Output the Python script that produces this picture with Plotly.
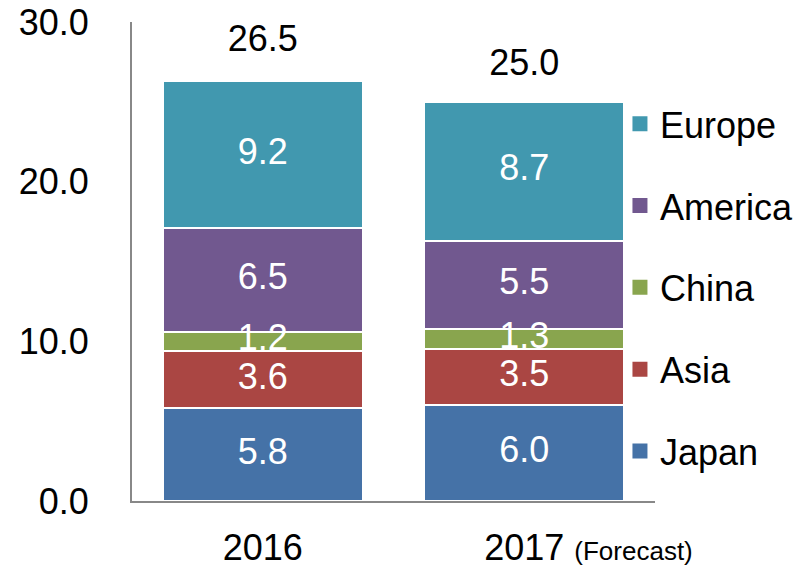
import plotly.graph_objects as go

categories = ["2016", "2017"]
series_names = ["Japan", "Asia", "China", "America", "Europe"]
japan = [5.8, 6.0]
asia = [3.6, 3.5]
china = [1.2, 1.3]
america = [6.5, 5.5]
europe = [9.2, 8.7]
totals = [26.5, 25.0]
y_ticks = [0, 10, 20, 30]
forecast_note = "(Forecast)"

colors = ["#4572A7", "#AA4643", "#89A54E", "#71588F", "#4198AF"]
FONT = "Arial, Liberation Sans, sans-serif"
FS = 36

series = [japan, asia, china, america, europe]
fig = go.Figure()
for i, (name, vals) in enumerate(zip(series_names, series)):
    fig.add_trace(go.Bar(
        x=categories, y=vals, name=name,
        marker=dict(color=colors[i], line=dict(color="white", width=2)),
        legendgroup=name, showlegend=False,
    ))
    # legend entry with a square swatch
    fig.add_trace(go.Scatter(
        x=[None], y=[None], mode="markers", name=name,
        marker=dict(symbol="square", size=15, color=colors[i]),
        legendgroup=name, legendrank=10 - i, showlegend=True,
        hoverinfo="skip",
    ))

# segment labels at the middle of each stacked segment (drawn on top of all bars)
base = [0.0] * len(categories)
for vals in series:
    mids = [b + v / 2 for b, v in zip(base, vals)]
    fig.add_trace(go.Scatter(
        x=categories, y=mids, mode="text",
        text=[f"{v:.1f}" for v in vals], textposition="middle center",
        textfont=dict(color="white", size=FS, family=FONT),
        showlegend=False, hoverinfo="skip", cliponaxis=False,
    ))
    base = [b + v for b, v in zip(base, vals)]

# totals above the bars (transparent markers give the offset)
fig.add_trace(go.Scatter(
    x=categories, y=totals, mode="markers+text",
    marker=dict(size=27, opacity=0, color="white"),
    text=[f"{t:.1f}" for t in totals], textposition="top center",
    textfont=dict(color="black", size=FS, family=FONT),
    showlegend=False, hoverinfo="skip", cliponaxis=False,
))

pad = f"<span style='font-size:26px;color:rgba(0,0,0,0)'>{forecast_note}</span> "
note = f" <span style='font-size:26px'>{forecast_note}</span>"
x_ticktext = [categories[0], pad + categories[1] + note]

fig.update_layout(
    width=801, height=558,
    margin=dict(l=124, r=154, t=14, b=65, autoexpand=False),
    paper_bgcolor="white", plot_bgcolor="white",
    barmode="stack", bargap=0.235,
    font=dict(family=FONT, size=FS, color="black"),
    showlegend=True,
    legend=dict(x=0.933, xanchor="left", y=0.85, yanchor="top",
                traceorder="grouped", tracegroupgap=32,
                font=dict(size=FS, family=FONT, color="black"),
                bgcolor="rgba(0,0,0,0)"),
)
fig.update_yaxes(range=[0, 30], tickvals=y_ticks,
                 ticktext=[f"{v:.1f}" for v in y_ticks],
                 showgrid=False, zeroline=False,
                 showline=True, linecolor="#888888", linewidth=2,
                 ticks="outside", ticklen=34, tickcolor="rgba(0,0,0,0)",
                 ticklabeloverflow="allow",
                 tickfont=dict(size=FS, family=FONT, color="black"))
fig.update_xaxes(type="category", range=[-0.5, 1.5],
                 tickvals=categories, ticktext=x_ticktext,
                 showgrid=False, showline=True,
                 linecolor="#888888", linewidth=2,
                 ticks="outside", ticklen=14, tickcolor="rgba(0,0,0,0)",
                 ticklabeloverflow="allow",
                 tickfont=dict(size=FS, family=FONT, color="black"))

fig.write_html("out.html")
